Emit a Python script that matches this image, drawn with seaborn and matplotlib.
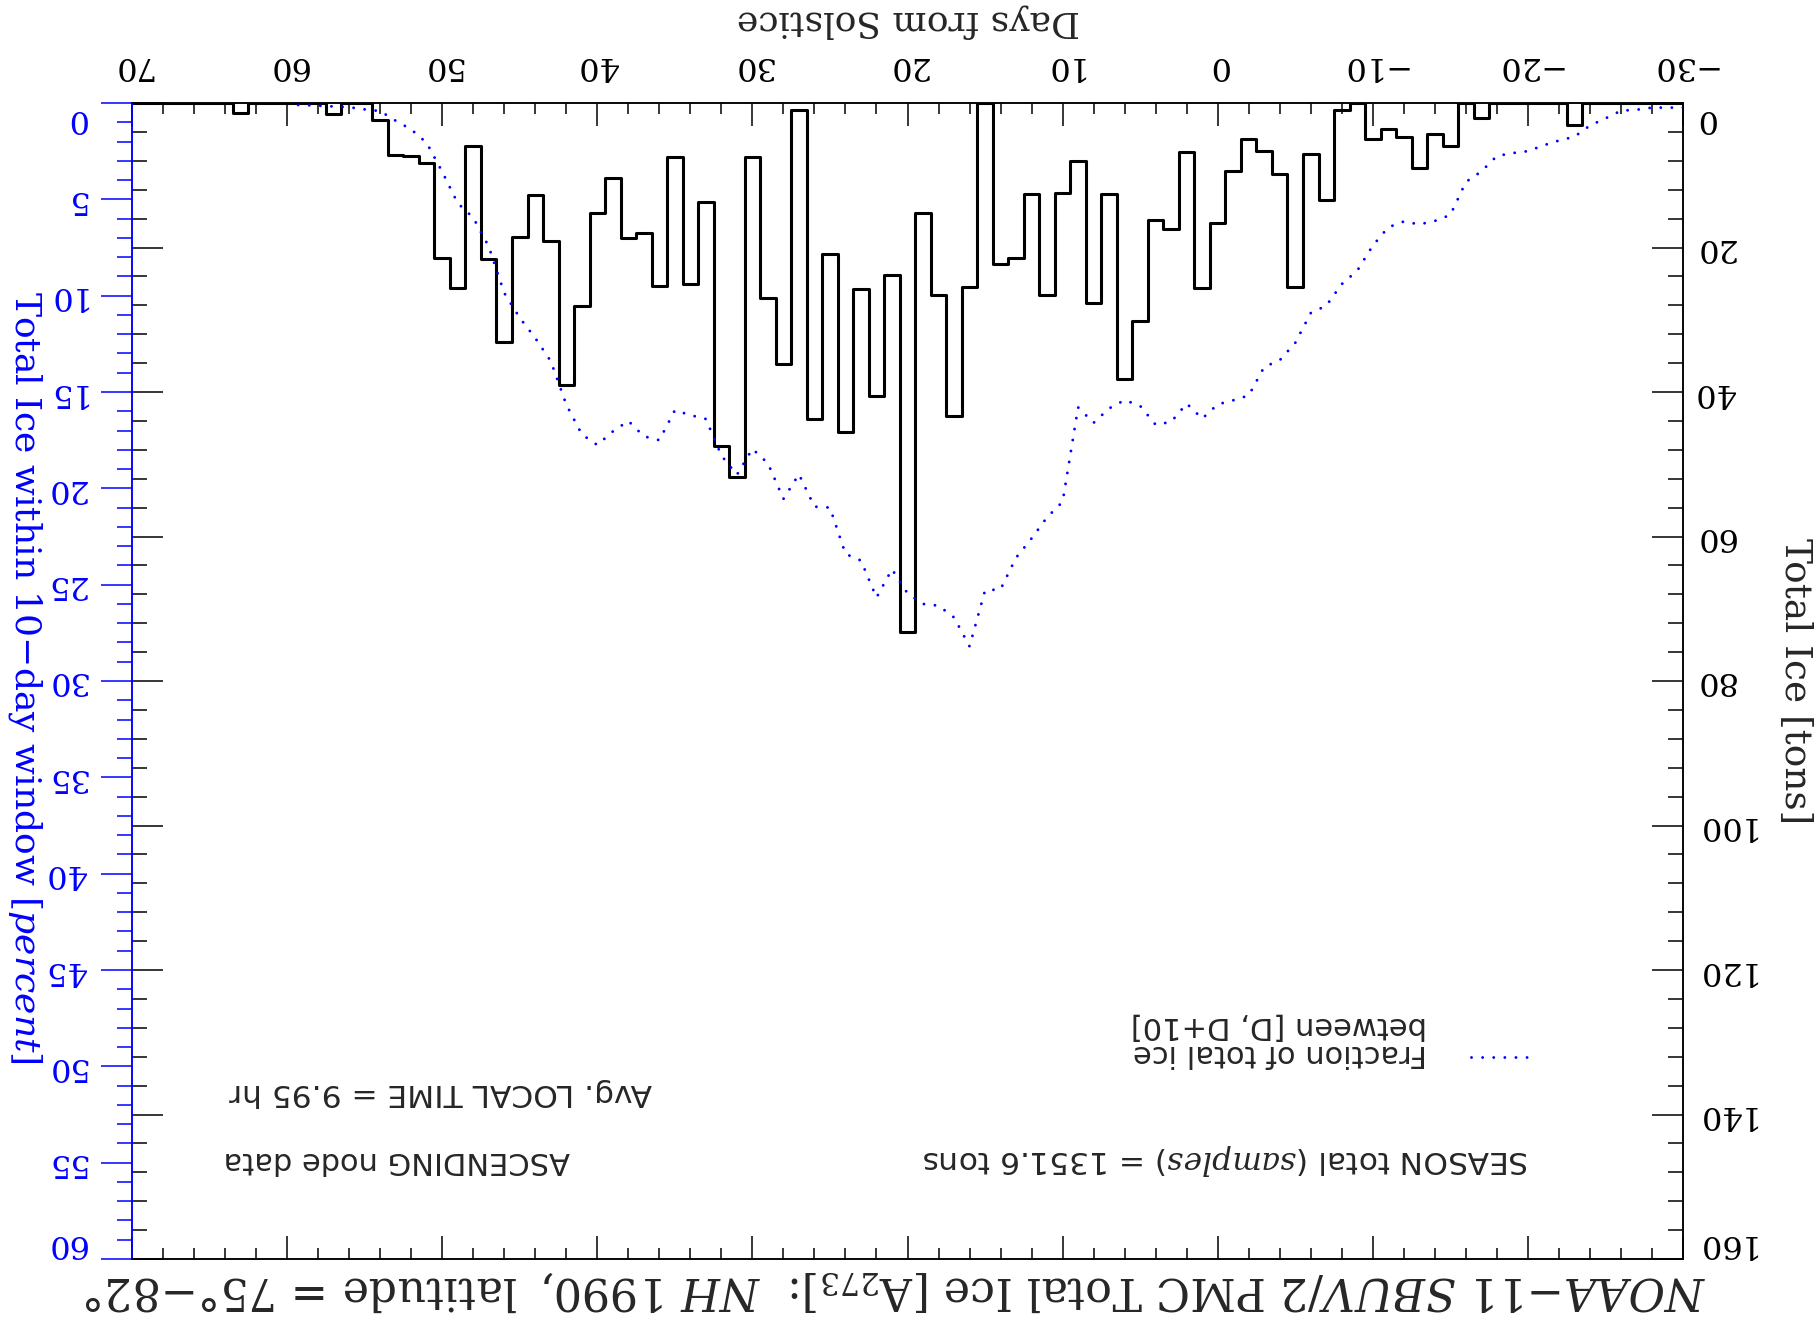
import numpy as np
import pandas as pd
import seaborn as sns
import matplotlib.pyplot as plt
from matplotlib.ticker import MultipleLocator
from matplotlib.lines import Line2D

# daily total ice (tons), days from solstice 70 ... -30
days = np.arange(70, -31, -1)
tons = [0, 0, 0, 0, 0, 0, 0, 1.43, 0, 0,
        0, 0, 0, 1.57, 0, 0, 2.35, 7.2, 7.34, 8.26,
        21.45, 25.56, 5.9, 21.64, 33.1, 18.6, 12.78, 19.1, 39.08, 28.05,
        15.22, 10.33, 18.64, 17.95, 25.28, 7.52, 25.1, 13.75, 47.47, 51.8,
        7.43, 26.94, 36.08, 0.92, 43.8, 20.85, 45.6, 25.8, 40.6, 23.76,
        73.2, 15.18, 26.57, 43.3, 25.5, 0, 22.33, 21.5, 12.64, 26.62,
        12.41, 8.08, 27.63, 12.64, 38.25, 30.13, 16.24, 17.49, 6.74, 25.56,
        16.6, 9.41, 4.94, 6.64, 9.87, 25.42, 7.01, 13.47, 1.0, 0,
        4.98, 3.65, 4.75, 9.04, 4.34, 6.0, 0, 2.08, 0, 0,
        0, 0, 0, 3.0, 0, 0, 0, 0, 0, 0,
        0]

# fraction of total ice between [D, D+10] (percent), days 60 ... -30
pct_days = np.arange(60, -31, -1)
pct = [0.10, 0.10, 0.14, 0.18, 0.22, 0.33, 0.42, 0.92, 1.37, 2.07,
       3.57, 5.2, 5.95, 7.45, 9.86, 11.15, 12.2, 13.4, 15.65, 17.2,
       17.75, 17.05, 16.5, 17.3, 17.5, 15.95, 16.2, 16.4, 18.3, 19.3,
       17.95, 18.7, 20.55, 19.27, 20.95, 21.0, 23.4, 23.75, 25.67, 24.2,
       25.45, 26.0, 26.09, 26.7, 28.2, 25.3, 25.24, 23.6, 22.6, 21.5,
       20.7, 15.8, 16.6, 15.85, 15.42, 15.72, 16.7, 16.55, 15.6, 16.38,
       15.64, 15.43, 15.18, 13.7, 13.35, 12.45, 10.9, 10.52, 9.4, 8.7,
       7.4, 6.45, 6.15, 6.3, 6.12, 5.81, 4.1, 3.55, 2.75, 2.6,
       2.5, 2.2, 1.95, 1.75, 1.17, 0.8, 0.4, 0.35, 0.24, 0.24,
       0.24]

x_ticks = np.arange(-30, 71, 10)
ton_ticks = np.arange(0, 161, 20)
pct_ticks = np.arange(0, 61, 5)

sns.set_theme(style="white")
plt.rcParams['font.family'] = ['DejaVu Serif']
plt.rcParams['mathtext.fontset'] = 'dejavuserif'

W, H = 1819, 1320
fig = plt.figure(figsize=(W / 100, H / 100), dpi=100)
ax = fig.add_axes([132 / W, 61 / H, 1551 / W, 1156 / H])
ax2 = ax.twinx()

dots = (0, (0.01, 3.8))

# histogram of daily ice (the whole picture is drawn upside down)
ice = pd.DataFrame({"day": days, "tons": tons})
sns.histplot(data=ice, x="day", weights="tons", binwidth=1,
             binrange=(days.min() - 0.5, days.max() + 0.5),
             element="step", fill=False, color="black", linewidth=2.2, ax=ax)
frac = pd.DataFrame({"day": pct_days, "pct": pct})
sns.lineplot(data=frac, x="day", y="pct", ax=ax2, color="blue", linewidth=2.1,
             linestyle=dots, dash_capstyle="round")

ax.set_xlim(70, -30)
ax.set_ylim(160, 0)
ax2.set_ylim(60, 0)
ax.set_xlabel("")
ax.set_ylabel("")
ax2.set_ylabel("")

ax.set_xticks(x_ticks)
ax.xaxis.set_minor_locator(MultipleLocator(2))
ax.set_yticks(ton_ticks)
ax.yaxis.set_minor_locator(MultipleLocator(4))
ax2.set_yticks(pct_ticks)
ax2.yaxis.set_minor_locator(MultipleLocator(1))
ax2.yaxis.tick_left()

tick_size = 23
ax.tick_params(axis="x", which="both", direction="in", top=True, bottom=True,
               labeltop=True, labelbottom=False, labelrotation=180,
               labelsize=tick_size, pad=16, width=1.1, color="black", labelcolor="black")
ax.tick_params(axis="x", which="major", length=16.5)
ax.tick_params(axis="x", which="minor", length=8)
ax.tick_params(axis="y", which="both", direction="in", left=True, right=True,
               labelleft=False, labelright=True, labelrotation=180,
               labelsize=tick_size, pad=8, width=1.1, color="black", labelcolor="black")
ax.tick_params(axis="y", which="major", length=22)
ax.tick_params(axis="y", which="minor", length=11)

ax2.tick_params(axis="y", which="both", direction="out", left=True, right=False,
                labelleft=True, labelright=False, labelrotation=180,
                labelsize=tick_size, pad=11, width=1.1, colors="blue")
ax2.tick_params(axis="y", which="major", length=22)
ax2.tick_params(axis="y", which="minor", length=11)

for a in (ax, ax2):
    for s in a.spines.values():
        s.set_linewidth(1.1)
        s.set_color("black")
    a.spines["left"].set_color("blue")

# end labels sit inside the axis range
for t in ax.yaxis.get_major_ticks():
    t.label2.set_va("center")
ax.yaxis.get_major_ticks()[0].label2.set_va("top")
ax.yaxis.get_major_ticks()[-1].label2.set_va("bottom")
for t in ax2.yaxis.get_major_ticks():
    t.label1.set_va("center")
ax2.yaxis.get_major_ticks()[0].label1.set_va("top")
ax2.yaxis.get_major_ticks()[-1].label1.set_va("bottom")

def fx(px):
    return px / W

def fy(py):
    return 1 - py / H

fig.text(fx(908), fy(21), "Days from Solstice", rotation=180,
         ha="center", va="center", fontsize=26)
fig.text(fx(1795), fy(681), "Total Ice [tons]", rotation=270,
         ha="center", va="center", fontsize=27)
fig.text(fx(25), fy(677), r"Total Ice within 10−day window [$\it{percent}$]",
         rotation=270, ha="center", va="center", fontsize=26, color="blue")
fig.text(fx(895), fy(1290),
         r"$\it{NOAA{-}11\ SBUV/2}$ PMC Total Ice [A$_{273}$]:  $\it{NH\ 1990,}$ latitude = 75°−82°",
         rotation=180, ha="center", va="center", fontsize=32)

sans = "DejaVu Sans"
fig.text(fx(1226), fy(1160), r"SEASON total ($\it{samples}$) = 1351.6 tons",
         rotation=180, ha="center", va="center", fontsize=22.5, family=sans)
fig.text(fx(397), fy(1160), "ASCENDING node data",
         rotation=180, ha="center", va="center", fontsize=22, family=sans)
fig.text(fx(441), fy(1093), "Avg. LOCAL TIME = 9.95 hr",
         rotation=180, ha="center", va="center", fontsize=22.5, family=sans)

# legend for the dotted curve
fig.text(fx(1427), fy(1040), "Fraction of total ice\nbetween [D, D+10]",
         rotation=180, ha="right", va="center", multialignment="left",
         fontsize=22, family=sans, linespacing=0.95)
fig.add_artist(Line2D([fx(1471), fx(1537)], [fy(1057), fy(1057)],
                      transform=fig.transFigure, color="blue", linewidth=2.1,
                      linestyle=dots, dash_capstyle="round"))

fig.savefig("out.png", dpi=100)
